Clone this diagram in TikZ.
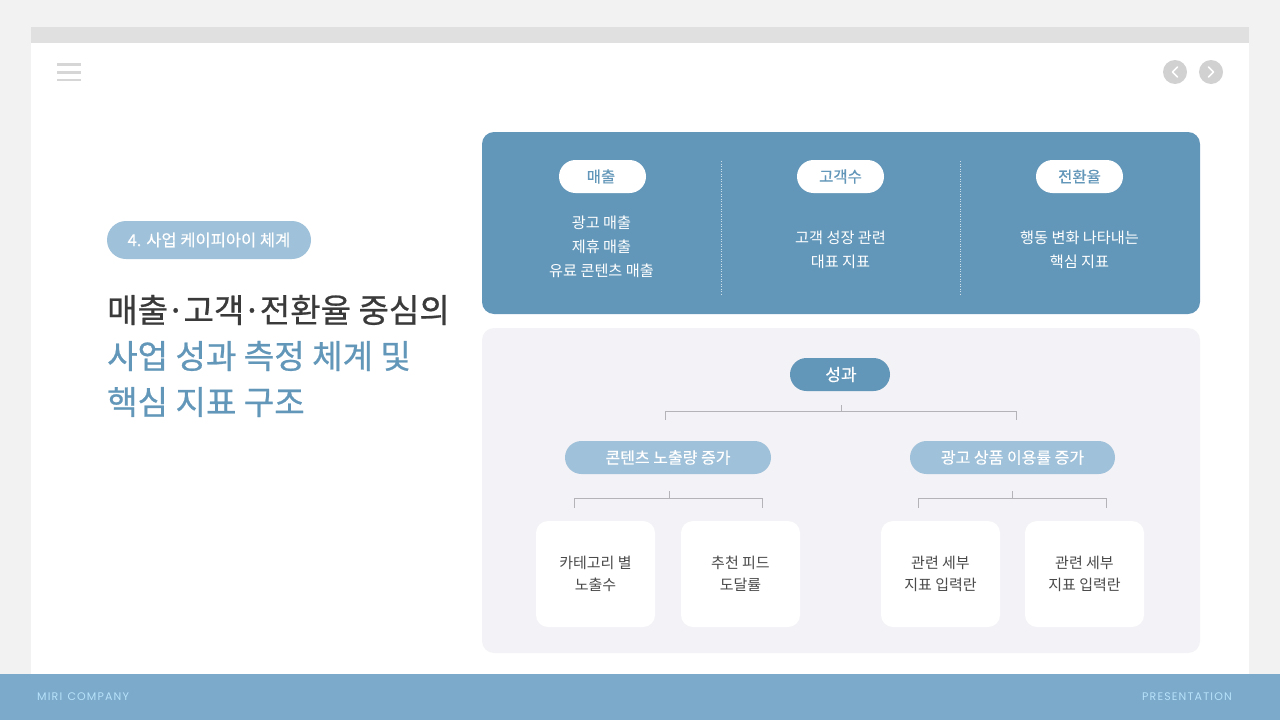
\documentclass[tikz,border=0pt]{standalone}
\usepackage{fontspec}
\setmainfont{Noto Sans CJK KR}
\newfontfamily\krmid[FakeBold=0.45]{Noto Sans CJK KR}
\newfontfamily\krhead[FakeBold=0.7]{Noto Sans CJK KR}
\newfontfamily\popfont[LetterSpace=10.5]{Poppins}
\usetikzlibrary{positioning}
\definecolor{deepblue}{HTML}{6397B9}
\definecolor{midblue}{HTML}{9FC1D9}
\definecolor{footblue}{HTML}{7BAACB}
\definecolor{foottext}{HTML}{B8E2FA}
\definecolor{panelgray}{HTML}{F3F2F6}
\definecolor{darktext}{HTML}{3A3A3A}
\definecolor{cardtext}{HTML}{4A4A4A}
\definecolor{linegray}{HTML}{B4B4B8}
\newcommand{\middot}{\hspace{-1.6pt}·\hspace{-1.6pt}}
\tikzset{
    whitepill/.style={rectangle, fill=white, rounded corners=16.5pt, minimum width=87pt, minimum height=33pt, inner sep=0pt, text=deepblue, font=\krmid\fontsize{15.5}{18}\selectfont},
    midpill/.style={rectangle, fill=midblue, rounded corners=16.5pt, minimum height=33pt, inner sep=0pt, text=white, font=\krmid\fontsize{16}{18}\selectfont},
    card/.style={rectangle, fill=white, rounded corners=12pt, minimum width=119pt, minimum height=106pt, inner sep=0pt, align=center, text=cardtext, font=\fontsize{15}{22}\selectfont},
    bodytext/.style={align=center, text=white, inner sep=0pt, font=\fontsize{15.2}{24}\selectfont},
    titleline/.style={anchor=west, inner sep=0pt, font=\krhead\fontsize{33.1}{38}\selectfont},
    foottext/.style={inner sep=0pt, text=foottext, font=\popfont\fontsize{11}{13}\selectfont},
    bracket/.style={draw=linegray, line width=0.8pt},
    dotline/.style={draw=white!70!deepblue, line width=1pt, dash pattern=on 1pt off 1.5pt},
    roundbtn/.style={circle, fill=black!18, minimum size=24pt, inner sep=0pt},
    chevron/.style={draw=white, line width=1.6pt, line cap=round, line join=round},
    burger/.style={draw=black!16, line width=2.8pt}
}

\begin{document}
\begin{tikzpicture}[x=1pt, y=-1pt]
    \useasboundingbox (0,0) rectangle (1280,720);
    % page frame
    \fill[black!5] (0,0) rectangle (1280,720);
    \fill[white] (31,27) rectangle (1249,674);
    \fill[black!12] (31,27) rectangle (1249,43);
    \fill[footblue] (0,674) rectangle (1280,720);
    \node[foottext, anchor=west] (company) at (37,697) {MIRI\hspace{1.2pt} COMPANY};
    \node[foottext, anchor=east] (present) at (1232,697) {PRESENTATION};

    \draw[burger] (57,64.5) -- (81,64.5);
    \draw[burger] (57,72.5) -- (81,72.5);
    \draw[burger] (57,80) -- (81,80);
    \node[roundbtn] (prev) at (1175,72) {};
    \node[roundbtn] (next) at (1211,72) {};
    \draw[chevron] (1177.5,67) -- (1172.5,72) -- (1177.5,77);
    \draw[chevron] (1208.5,67) -- (1213.5,72) -- (1208.5,77);

    % left heading
    \node[midpill, minimum width=204pt, minimum height=38pt, rounded corners=19pt, font=\krmid\fontsize{16.5}{18}\selectfont] (tag) at (209,240) {4. 사업 케이피아이 체계};
    \node[titleline, text=darktext] (title1) at (107,310) {매출\middot 고객\middot 전환율 중심의};
    \node[titleline, text=deepblue] (title2) at (107,356) {사업 성과 측정 체계 및};
    \node[titleline, text=deepblue] (title3) at (107,402) {핵심 지표 구조};

    % upper panel
    \fill[deepblue, rounded corners=12pt] (482,132) rectangle (1200,314);
    \node[whitepill] (sales) at (602.5,176.5) {\hspace{-3pt}매출};
    \node[whitepill] (users) at (840.5,176.5) {고객수};
    \node[whitepill] (conv) at (1079.5,176.5) {전환율};
    \node[bodytext] (salestxt) at (601.5,247) {광고 매출\\제휴 매출\\유료 콘텐츠 매출};
    \node[bodytext] (userstxt) at (840.5,250) {고객 성장 관련\\대표 지표};
    \node[bodytext] (convtxt) at (1079.5,250) {행동 변화 나타내는\\핵심 지표};
    \draw[dotline] (721,161) -- (721,295);
    \draw[dotline] (960,161) -- (960,295);

    % lower panel
    \fill[panelgray, rounded corners=12pt] (482,328) rectangle (1200,653);
    \node[midpill, fill=deepblue, minimum width=100pt, font=\krmid\fontsize{17}{18}\selectfont] (result) at (840,374.5) {\hspace{2pt}성과};
    \node[midpill, minimum width=206pt] (expo) at (668,457.5) {콘텐츠 노출량 증가};
    \node[midpill, minimum width=205pt] (adrate) at (1012.5,457.5) {광고 상품 이용률 증가};
    \node[card] (cat) at (595.5,574) {카테고리 별\\노출수};
    \node[card] (feed) at (740.5,574) {추천 피드\\도달률};
    \node[card] (sub1) at (940.5,574) {관련 세부\\지표 입력란};
    \node[card] (sub2) at (1084.5,574) {관련 세부\\지표 입력란};

    % brackets
    \coordinate (r0) at (841,405);
    \coordinate (r1) at (665,420);
    \coordinate (r2) at (1016,420);
    \draw[bracket] (r0) -- (841,411);
    \draw[bracket] (r1) -- (665,411) -- (1016,411) -- (r2);
    \coordinate (a0) at (669,491);
    \coordinate (a1) at (574.5,508);
    \coordinate (a2) at (762.5,508);
    \draw[bracket] (a0) -- (669,498);
    \draw[bracket] (a1) -- (574.5,498) -- (762.5,498) -- (a2);
    \coordinate (b0) at (1012,491);
    \coordinate (b1) at (918.5,508);
    \coordinate (b2) at (1106.5,508);
    \draw[bracket] (b0) -- (1012,498);
    \draw[bracket] (b1) -- (918.5,498) -- (1106.5,498) -- (b2);
\end{tikzpicture}
\end{document}
